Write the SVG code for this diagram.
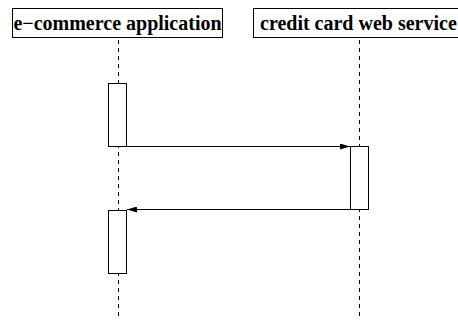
<svg xmlns="http://www.w3.org/2000/svg" width="458" height="320" viewBox="0 0 458 320">
  <style>
    .box { fill: #ffffff; stroke: #000000; stroke-width: 1; }
    .label { font-family: "Liberation Serif", "Times New Roman", serif; font-weight: bold; font-size: 20px; fill: #000000; }
    .life { stroke: #000000; stroke-width: 1; stroke-dasharray: 4 4; fill: none; }
    .msg { stroke: #000000; stroke-width: 1; fill: none; }
  </style>
  <defs>
    <marker id="head" viewBox="0 0 10 6" refX="10" refY="3" markerWidth="10" markerHeight="6" markerUnits="userSpaceOnUse" orient="auto">
      <path d="M0,0 L10,3 L0,6 Z" fill="#000000"/>
    </marker>
  </defs>
  <rect width="458" height="320" fill="#ffffff"/>

  <!-- lifeline: e-commerce application -->
  <g id="ecommerce">
    <rect class="box" x="12.5" y="8.5" width="210" height="29"/>
    <text class="label" x="117.5" y="29.5" text-anchor="middle">e−commerce application</text>
    <line class="life" x1="118.5" y1="40" x2="118.5" y2="320"/>
    <rect class="box" x="108.5" y="83.5" width="18" height="63"/>
    <rect class="box" x="108.5" y="210.5" width="18" height="63"/>
  </g>

  <!-- lifeline: credit card web service -->
  <g id="creditcard">
    <rect class="box" x="253.5" y="8.5" width="210" height="29"/>
    <text class="label" x="260" y="29.5">credit card web service</text>
    <line class="life" x1="359.5" y1="40" x2="359.5" y2="320"/>
    <rect class="box" x="350.5" y="146.5" width="18" height="63"/>
  </g>

  <!-- request and reply messages -->
  <g id="connectors">
    <line class="msg" x1="127" y1="146.5" x2="350" y2="146.5" marker-end="url(#head)"/>
    <line class="msg" x1="350" y1="209.5" x2="127" y2="209.5" marker-end="url(#head)"/>
  </g>
</svg>
